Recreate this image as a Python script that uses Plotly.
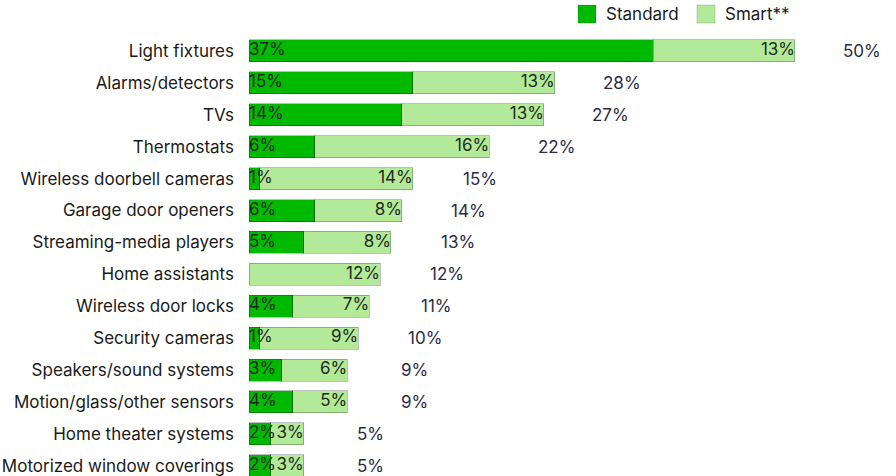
import plotly.graph_objects as go

categories = [
    "Light fixtures", "Alarms/detectors", "TVs", "Thermostats",
    "Wireless doorbell cameras", "Garage door openers", "Streaming-media players",
    "Home assistants", "Wireless door locks", "Security cameras",
    "Speakers/sound systems", "Motion/glass/other sensors",
    "Home theater systems", "Motorized window coverings",
]
standard = [37, 15, 14, 6, 1, 6, 5, 0, 4, 1, 3, 4, 2, 2]
smart = [13, 13, 13, 16, 14, 8, 8, 12, 7, 9, 6, 5, 3, 3]
totals = [50, 28, 27, 22, 15, 14, 13, 12, 11, 10, 9, 9, 5, 5]
series_names = ["Standard", "Smart**"]

STD_COLOR = "#00B900"
SMART_COLOR = "#B3EA99"
FONT = "Inter, Roboto, sans-serif"
FS = 17

W, H = 896, 476
ML, MT = 249, 35
PW, PH = W - ML, H - MT

fig = go.Figure()
for name, vals, col in zip(series_names, [standard, smart], [STD_COLOR, SMART_COLOR]):
    fig.add_trace(go.Bar(
        y=categories, x=vals, orientation="h", name=name,
        marker=dict(color=col, line=dict(color="rgba(0,0,0,0.25)", width=1)),
        hoverinfo="skip", showlegend=False,
    ))

# Standard values, left-aligned at the start of each bar
fig.add_trace(go.Scatter(
    y=categories, x=[0] * len(categories), mode="text",
    text=[f"{v}%" if v else "" for v in standard],
    textposition="middle right",
    textfont=dict(family=FONT, size=FS, color="#1e2a1e"),
    showlegend=False, hoverinfo="skip",
))
# Smart values, right-aligned at the end of each stacked bar
fig.add_trace(go.Scatter(
    y=categories, x=[s + m for s, m in zip(standard, smart)], mode="text",
    text=[f"{v}%" for v in smart],
    textposition="middle left",
    textfont=dict(family=FONT, size=FS, color="#1e2a1e"),
    showlegend=False, hoverinfo="skip",
))

# Totals placed a fixed distance past the end of each bar
for cat, tot in zip(categories, totals):
    fig.add_annotation(
        x=tot, y=cat, text=f"{tot}%", showarrow=False,
        xanchor="center", xshift=67,
        font=dict(family=FONT, size=FS, color="#2b2b45"),
    )

# Legend: colour squares with labels, top right
def px_x(px):
    return (px - ML) / PW

def px_y(py):
    return (H - py) / PH

for name, col, left in zip(series_names, [STD_COLOR, SMART_COLOR], [578, 697]):
    fig.add_shape(
        type="rect", xref="paper", yref="paper",
        x0=px_x(left), x1=px_x(left + 18), y0=px_y(23), y1=px_y(5),
        fillcolor=col, line=dict(color="rgba(0,0,0,0.15)", width=1),
    )
    fig.add_annotation(
        xref="paper", yref="paper", x=px_x(left + 26), y=px_y(14),
        text=name, showarrow=False, xanchor="left", yanchor="middle",
        font=dict(family=FONT, size=FS, color="#1a1a1a"),
    )

fig.update_layout(
    width=W, height=H,
    margin=dict(l=ML, r=0, t=MT, b=0),
    barmode="stack", bargap=0.31,
    plot_bgcolor="white", paper_bgcolor="white",
    font=dict(family=FONT, size=FS, color="#1a1a1a"),
    showlegend=False,
)
fig.update_xaxes(range=[0, 59.25], visible=False, fixedrange=True)
fig.update_yaxes(
    type="category", categoryorder="array", categoryarray=categories,
    range=[13.32, -0.5], autorange=False,
    showgrid=False, zeroline=False, showline=False,
    ticks="", ticklabelstandoff=14, tickfont=dict(size=FS, color="#1a1a1a"),
)

fig.write_html("out.html")
